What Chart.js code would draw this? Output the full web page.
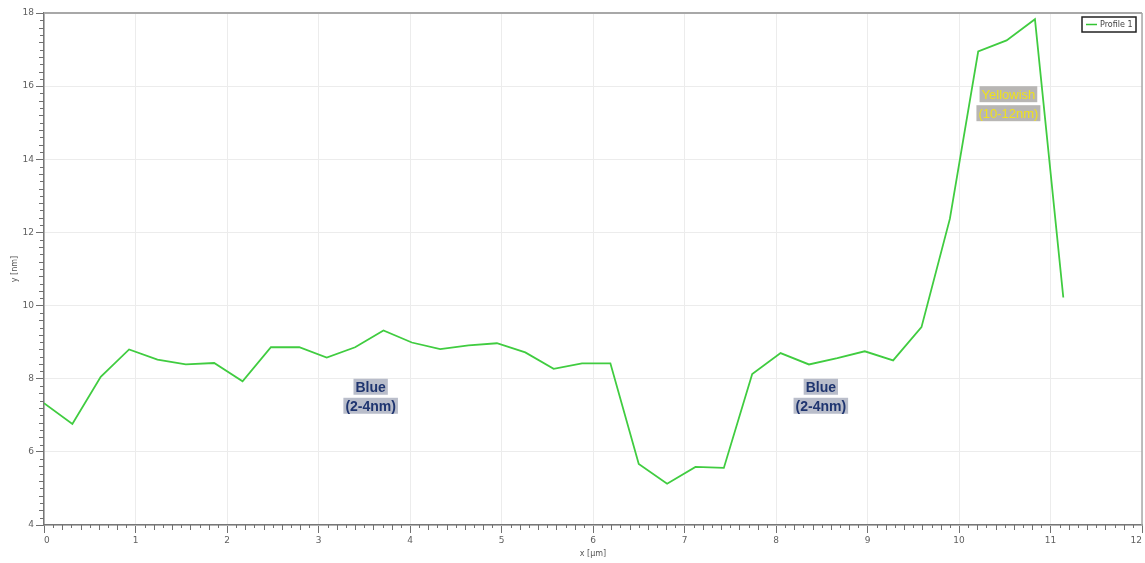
<!DOCTYPE html>
<html>
<head>
<meta charset="utf-8">
<script src="https://cdn.jsdelivr.net/npm/chart.js@4/dist/chart.umd.min.js"></script>
<style>
  html, body { margin: 0; padding: 0; background: #ffffff; overflow: hidden; }
  #c { display: block; }
</style>
</head>
<body>
<canvas id="c" width="1145" height="563"></canvas>
<script>
// Height profile along the scan line
const xPos = [0, 0.31, 0.62, 0.93, 1.24, 1.55, 1.86, 2.17, 2.48, 2.79, 3.09, 3.40,
  3.71, 4.02, 4.33, 4.64, 4.95, 5.26, 5.57, 5.88, 6.19, 6.50, 6.81, 7.12, 7.43,
  7.74, 8.05, 8.36, 8.67, 8.97, 9.28, 9.59, 9.90, 10.21, 10.52, 10.83, 11.14];
const height = [7.33, 6.76, 8.05, 8.80, 8.52, 8.39, 8.43, 7.93, 8.86, 8.86, 8.58, 8.86,
  9.32, 8.99, 8.81, 8.91, 8.97, 8.72, 8.27, 8.42, 8.42, 5.67, 5.13, 5.59, 5.56,
  8.13, 8.70, 8.39, 8.56, 8.75, 8.50, 9.41, 12.37, 16.95, 17.25, 17.83, 10.22];
const seriesName = 'Profile 1';

// Region labels: position, two text lines, colour scheme
const regionX = [3.57, 8.49, 10.54];
const regionY = [7.52, 7.52, 15.52];
const regionLine1 = ['Blue', 'Blue', 'Yellowish'];
const regionLine2 = ['(2-4nm)', '(2-4nm)', '(10-12nm)'];
const regionKind = ['blue', 'blue', 'yellow'];

const xTickLabels = ['0','1','2','3','4','5','6','7','8','9','10','11','12'];
const yTickLabels = ['4','6','8','10','12','14','16','18'];

const points = xPos.map((x, i) => ({ x: x, y: height[i] }));

const frameAndMinorTicks = {
  id: 'frameAndMinorTicks',
  afterDraw(chart) {
    const ctx = chart.ctx;
    const xs = chart.scales.x, ys = chart.scales.y;
    const a = chart.chartArea;
    ctx.save();
    // top and right frame
    ctx.strokeStyle = '#a8a8a8';
    ctx.lineWidth = 2;
    ctx.beginPath();
    ctx.moveTo(a.left, a.top); ctx.lineTo(a.right, a.top);
    ctx.stroke();
    ctx.lineWidth = 1.5;
    ctx.beginPath();
    ctx.moveTo(a.right, a.top); ctx.lineTo(a.right, a.bottom);
    ctx.stroke();
    // minor ticks
    ctx.strokeStyle = '#707070';
    ctx.lineWidth = 1;
    ctx.beginPath();
    for (let i = 0; i <= 120; i++) {
      if (i % 10 === 0) continue;
      const px = Math.round(xs.getPixelForValue(i / 10)) + 0.5;
      const len = (i % 2 === 0) ? 5 : 3;
      ctx.moveTo(px, a.bottom); ctx.lineTo(px, a.bottom + len);
    }
    for (let i = 20; i <= 90; i++) {
      if (i % 10 === 0) continue;
      const py = Math.round(ys.getPixelForValue(i / 5)) + 0.5;
      const len = (i % 2 === 0) ? 5 : 4;
      ctx.moveTo(a.left, py); ctx.lineTo(a.left - len, py);
    }
    ctx.stroke();

    // region labels
    ctx.textAlign = 'center';
    ctx.textBaseline = 'middle';
    regionX.forEach((rx, i) => {
      const cx = xs.getPixelForValue(rx);
      const cy = ys.getPixelForValue(regionY[i]);
      const blue = regionKind[i] === 'blue';
      ctx.font = blue ? 'bold 14px "Liberation Sans", Arial, sans-serif'
                      : '13px "Liberation Sans", Arial, sans-serif';
      const lines = [regionLine1[i], regionLine2[i]];
      const lh = 19;
      lines.forEach((t, k) => {
        const ly = cy + (k - 0.5) * lh;
        const w = ctx.measureText(t).width + 4;
        ctx.fillStyle = blue ? '#b9bdca' : '#b8b6b4';
        ctx.fillRect(cx - w / 2, ly - 8, w, 16);
        ctx.fillStyle = blue ? '#1f3570' : '#efe21c';
        ctx.fillText(t, cx, ly + 1);
      });
    });

    // legend box
    const lx = 1082, ly = 17, lw = 54, lhh = 15;
    ctx.fillStyle = '#ffffff';
    ctx.fillRect(lx, ly, lw, lhh);
    ctx.strokeStyle = '#222222';
    ctx.lineWidth = 1.5;
    ctx.strokeRect(lx, ly, lw, lhh);
    ctx.strokeStyle = '#33c433';
    ctx.lineWidth = 1.5;
    ctx.beginPath();
    ctx.moveTo(lx + 4, ly + lhh / 2); ctx.lineTo(lx + 15, ly + lhh / 2);
    ctx.stroke();
    ctx.fillStyle = '#444444';
    ctx.font = '8px "DejaVu Sans", sans-serif';
    ctx.textAlign = 'left';
    ctx.fillText(seriesName, lx + 18, ly + lhh / 2 + 0.5);
    ctx.restore();
  }
};

new Chart(document.getElementById('c'), {
  type: 'scatter',
  data: {
    datasets: [{
      label: seriesName,
      data: points,
      showLine: true,
      borderColor: '#40cc40',
      backgroundColor: '#40cc40',
      borderWidth: 1.8,
      pointRadius: 0,
      pointHoverRadius: 0,
      tension: 0
    }]
  },
  options: {
    responsive: false,
    animation: false,
    devicePixelRatio: 1,
    layout: { padding: { top: 13, right: 3, left: 0, bottom: 0 } },
    plugins: { legend: { display: false }, tooltip: { enabled: false } },
    scales: {
      x: {
        type: 'linear', min: 0, max: 12,
        afterFit(s) { s.height = 38; s.paddingLeft = 0; s.paddingRight = 0; },
        border: { color: '#777777', width: 1.5 },
        grid: { color: '#ececec', lineWidth: 1, tickLength: 8, tickColor: '#707070', drawOnChartArea: true },
        ticks: {
          stepSize: 1, padding: 2, color: '#606060', align: 'inner',
          font: { size: 9, family: '"DejaVu Sans", sans-serif' },
          callback: (v) => xTickLabels[v] ?? ''
        },
        title: { display: true, text: 'x [µm]', color: '#555555', padding: { top: 0, bottom: 4 },
          font: { size: 8, family: '"DejaVu Sans", sans-serif' } }
      },
      y: {
        type: 'linear', min: 4, max: 18,
        afterFit(s) { s.width = 44; },
        border: { color: '#777777', width: 1.5 },
        grid: { color: '#ececec', lineWidth: 1, tickLength: 8, tickColor: '#707070' },
        ticks: {
          stepSize: 2, padding: 2, color: '#606060',
          font: { size: 9, family: '"DejaVu Sans", sans-serif' },
          callback: (v) => yTickLabels[(v - 4) / 2] ?? ''
        },
        title: { display: true, text: 'y [nm]', color: '#555555', padding: { top: 10, bottom: 0 },
          font: { size: 8, family: '"DejaVu Sans", sans-serif' } }
      }
    }
  },
  plugins: [frameAndMinorTicks]
});
</script>
</body>
</html>
